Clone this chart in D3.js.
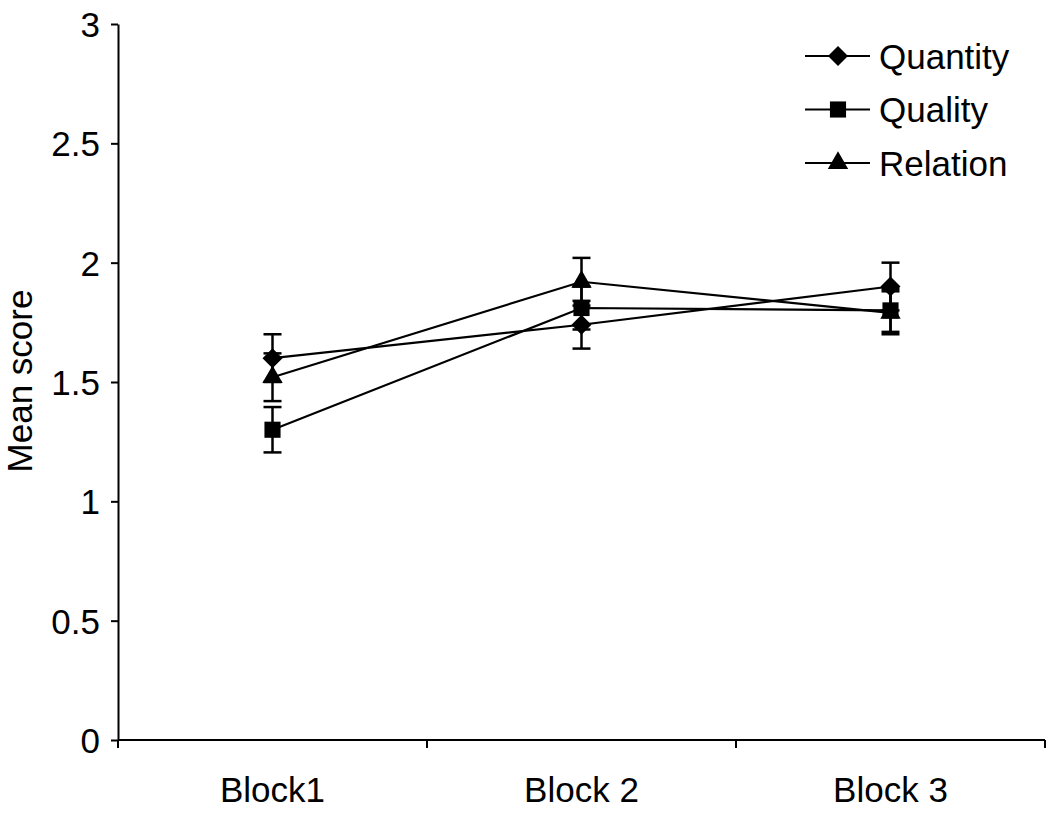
<!DOCTYPE html>
<html><head><meta charset="utf-8">
<script src="https://cdn.jsdelivr.net/npm/d3@7"></script>
<style>body{margin:0;background:#fff;} text{font-family:"Liberation Sans",Arial,sans-serif;fill:#000;}</style>
</head><body>
<svg id="c" width="1050" height="813"></svg>
<script>
const categories = ["Block1", "Block 2", "Block 3"];
const seriesNames = ["Quantity", "Quality", "Relation"];
const quantity = [1.60, 1.74, 1.90];
const quality = [1.30, 1.81, 1.80];
const relation = [1.52, 1.92, 1.79];
const quantityErr = [0.10, 0.10, 0.10];
const qualityErr = [0.095, 0.09, 0.09];
const relationErr = [0.10, 0.10, 0.09];
const yTicks = [0, 0.5, 1, 1.5, 2, 2.5, 3];
const yTickLabels = ["0", "0.5", "1", "1.5", "2", "2.5", "3"];

const diamond = {draw(ctx, size){ const r = Math.sqrt(size/2); ctx.moveTo(0,-r); ctx.lineTo(r,0); ctx.lineTo(0,r); ctx.lineTo(-r,0); ctx.closePath(); }};
const series = [
  {name: seriesNames[0], values: quantity, err: quantityErr, sym: diamond, size: 200, order: 2},
  {name: seriesNames[1], values: quality, err: qualityErr, sym: d3.symbolSquare, size: 260, order: 1},
  {name: seriesNames[2], values: relation, err: relationErr, sym: d3.symbolTriangle, size: 180, order: 0}
];

const svg = d3.select("#c");
const L = 118, R = 1045, T = 24, B = 740;
const x = d3.scaleBand().domain(categories).range([L, R]);
const y = d3.scaleLinear().domain([0, 3]).range([B, T]);
const FS = 35;

// y axis
const ya = svg.append("g").attr("transform", `translate(${L},0)`)
  .call(d3.axisLeft(y).tickValues(yTicks).tickFormat((d,i)=>yTickLabels[i]).tickSize(7).tickSizeOuter(0));
ya.attr("font-family", null).attr("font-size", null);
ya.select(".domain").attr("stroke-width", 2);
ya.selectAll(".tick line").attr("stroke-width", 2);
ya.selectAll(".tick text").attr("font-size", FS).attr("x", -18).attr("dy", "0.36em");

// x axis
const xa = svg.append("g").attr("transform", `translate(0,${B})`)
  .call(d3.axisBottom(x).tickSize(0).tickSizeOuter(0));
xa.attr("font-family", null).attr("font-size", null);
xa.select(".domain").attr("stroke-width", 2).attr("d", `M${L},0H${R}`);
xa.selectAll(".tick text").attr("font-size", FS).attr("y", 62).attr("dy", "0");
const bounds = [L].concat(categories.map(c => x(c) + x.bandwidth()));
xa.selectAll(".bt").data(bounds).enter().append("line")
  .attr("x1", d=>d).attr("x2", d=>d).attr("y1", 0).attr("y2", 8)
  .attr("stroke", "#000").attr("stroke-width", 2);

// y label
svg.append("text").attr("transform", `translate(32,381) rotate(-90)`)
  .attr("text-anchor", "middle").attr("font-size", FS).text("Mean score");

const cx = c => x(c) + x.bandwidth()/2;
const line = d3.line().x((d,i)=>cx(categories[i])).y(d=>y(d));

series.forEach(s => {
  const g = svg.append("g");
  g.append("path").attr("d", line(s.values)).attr("fill", "none").attr("stroke", "#000").attr("stroke-width", 2.2);
  s.values.forEach((v, i) => {
    const px = cx(categories[i]);
    const e = s.err[i];
    g.append("line").attr("x1", px).attr("x2", px).attr("y1", y(v - e)).attr("y2", y(v + e)).attr("stroke", "#000").attr("stroke-width", 2.5);
    [v - e, v + e].forEach(w => g.append("line").attr("x1", px - 9).attr("x2", px + 9).attr("y1", y(w)).attr("y2", y(w)).attr("stroke", "#000").attr("stroke-width", 2.5));
  });
});
series.slice().sort((a,b)=>a.order-b.order).forEach(s => {
  s.values.forEach((v, i) => {
    svg.append("path").attr("d", d3.symbol().type(s.sym).size(s.size)())
      .attr("transform", `translate(${cx(categories[i])},${y(v)})`).attr("fill", "#000");
  });
});

// legend
const lg = svg.append("g");
series.forEach((s, i) => {
  const ly = 56 + i * 53.5;
  lg.append("line").attr("x1", 805).attr("x2", 870).attr("y1", ly).attr("y2", ly).attr("stroke", "#000").attr("stroke-width", 2);
  lg.append("path").attr("d", d3.symbol().type(s.sym).size(s.size)()).attr("transform", `translate(838,${ly})`).attr("fill", "#000");
  lg.append("text").attr("x", 879).attr("y", ly).attr("dy", "0.36em").attr("font-size", FS).text(s.name);
});
</script>
</body></html>
